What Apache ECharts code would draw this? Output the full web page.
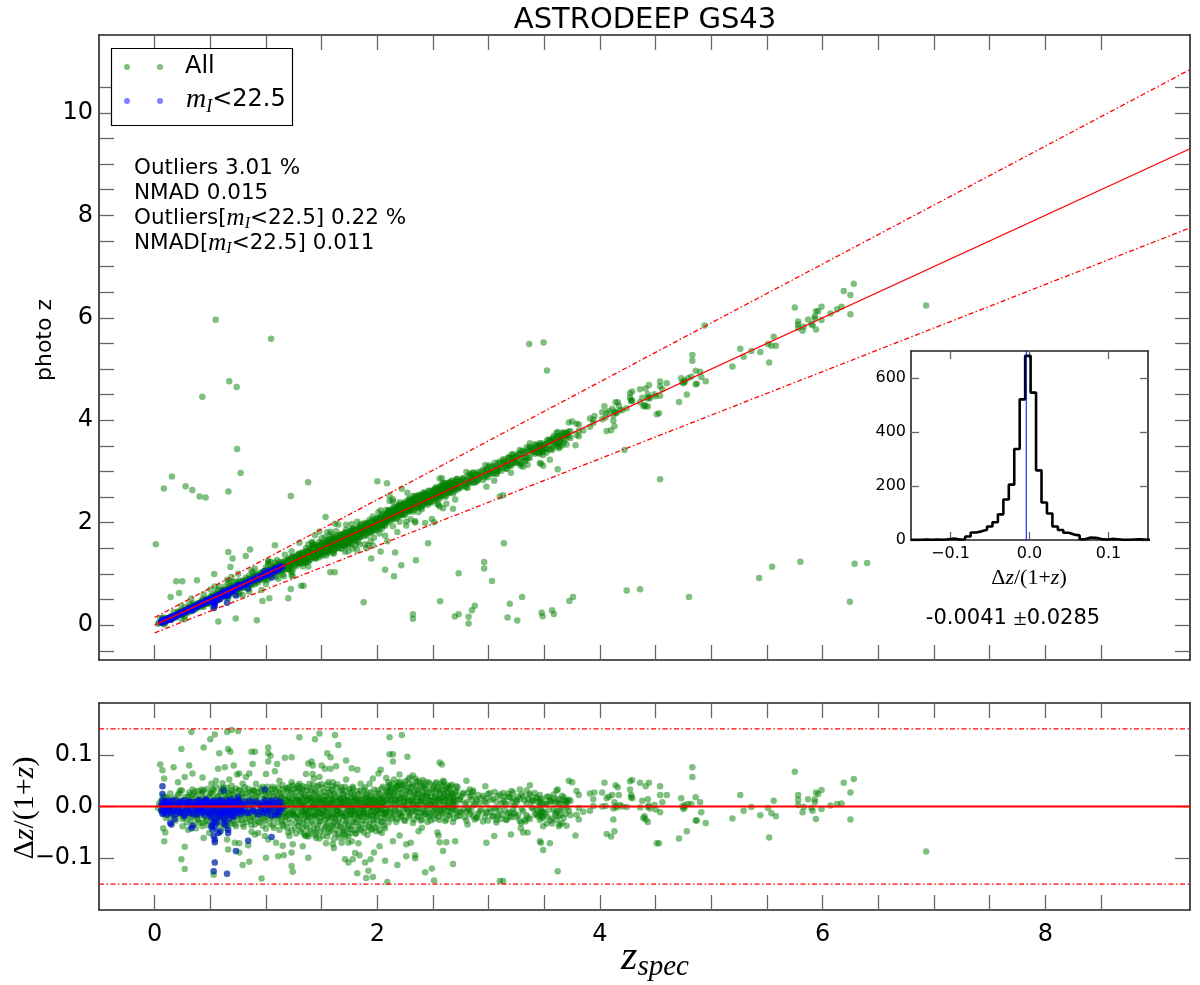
<!DOCTYPE html>
<html><head><meta charset="utf-8">
<script src="https://cdn.jsdelivr.net/npm/echarts/dist/echarts.min.js"></script>
<style>html,body{margin:0;padding:0;background:#fff}#c{width:1200px;height:985px}</style>
</head><body><div id="c"></div><script>
// ---------- DATA ----------
const xTickVals = [0,0.5,1,1.5,2,2.5,3,3.5,4,4.5,5,5.5,6,6.5,7,7.5,8,8.5];
const xLabelVals = [0,2,4,6,8];
const yTickVals = [-0.5,0,0.5,1,1.5,2,2.5,3,3.5,4,4.5,5,5.5,6,6.5,7,7.5,8,8.5,9,9.5,10,10.5];
const yLabelVals = [0,2,4,6,8,10];
const resTickVals = [-0.1,0,0.1];
const insetXTicks = [-0.1,0,0.1];
const insetYTicks = [0,200,400,600];

// residual panel points, "All" sample: [z_spec, dz/(1+z)]
const allResLow = [
[0.33,0.144],[0.54,0.139],[0.65,0.144],[0.69,0.148],[0.75,0.146],[0.50,0.13],[0.44,0.114],[0.24,0.111],[0.58,0.103],[0.66,0.111],[0.68,0.106],[0.87,0.106],[0.90,0.106],[1.02,0.114],[1.02,0.103],[1.04,0.098],[1.02,0.087],[1.10,0.082],[1.17,0.094],[1.23,0.095],[0.05,0.081],[0.17,0.076],[0.31,0.079],[0.34,0.064],[0.27,0.057],[0.43,0.056],[0.57,0.073],[0.63,0.076],[0.71,0.079],[0.74,0.062],[0.76,0.064],[0.85,0.064],[0.88,0.082],[1.00,0.063],[1.08,0.068],[0.07,0.07],[0.085,0.054],[0.21,0.047],[0.51,0.044],[0.55,0.05],[0.61,0.045],[0.67,0.052],[0.82,0.057],[0.79,0.044],[0.91,0.044],[1.12,0.05],[1.23,0.047],[0.245,0.031],[0.34,0.033],[0.42,0.033],[0.60,0.035],[0.69,0.031],[0.88,0.031],[0.97,0.038],[1.06,0.038],[1.15,0.041],[1.20,0.035],[1.27,0.036],
[0.077,-0.042],[0.095,-0.05],[0.086,-0.067],[0.25,-0.038],[0.30,-0.045],[0.37,-0.042],[0.43,-0.038],[0.44,-0.061],[0.49,-0.051],[0.58,-0.05],[0.65,-0.064],[0.66,-0.083],[0.72,-0.07],[0.76,-0.071],[0.84,-0.075],[0.87,-0.049],[0.90,-0.054],[0.93,-0.051],[0.99,-0.057],[1.02,-0.064],[1.09,-0.07],[1.15,-0.076],[1.21,-0.057],[1.24,-0.073],[0.27,-0.078],[0.24,-0.102],[0.27,-0.121],[1.00,-0.099],[1.11,-0.096],[1.16,-0.094],[1.23,-0.089],[1.23,-0.115],[1.24,-0.126],[0.96,-0.139],[0.79,-0.113],[0.85,-0.107],[0.76,-0.089],[0.53,-0.132],[0.03,-0.003],[0.04,0.006]
];
const allResMid = [
[1.30,0.134],[1.44,0.13],[1.48,0.141],[1.62,0.138],[1.65,0.119],[1.55,0.103],[1.58,0.095],[1.38,0.083],[1.41,0.087],[1.42,0.079],[1.50,0.079],[1.53,0.073],[1.58,0.073],[1.63,0.078],[1.72,0.089],[1.77,0.074],[1.82,0.071],[1.72,0.052],[1.42,0.063],[1.43,0.054],[1.36,0.063],[1.48,0.057],[1.56,0.047],[1.60,0.047],[1.68,0.037],[1.78,0.038],[1.85,0.044],[1.89,0.037],[1.93,0.044],[1.96,0.054],[2.01,0.064],[2.03,0.071],[2.11,0.134],[2.22,0.138],[2.11,0.101],[2.14,0.101],[2.14,0.087],[2.27,0.096],[2.08,0.055],[2.10,0.038],[2.11,0.031],[2.16,0.035],[2.19,0.041],[2.20,0.062],[2.29,0.056],[2.32,0.06],[2.34,0.054],[2.37,0.05],[2.43,0.047],[2.41,0.038],[2.56,0.085],[2.58,0.081],[2.53,0.047],[2.59,0.05],[2.63,0.041],[2.71,0.039],[2.67,0.025],[1.30,0.044],[1.33,0.033],
[1.33,-0.077],[1.38,-0.099],[1.36,-0.057],[1.45,-0.051],[1.54,-0.071],[1.60,-0.073],[1.61,-0.08],[1.70,-0.054],[1.68,-0.07],[1.74,-0.07],[1.77,-0.067],[1.83,-0.071],[1.71,-0.102],[1.74,-0.108],[1.78,-0.102],[1.80,-0.09],[1.84,-0.094],[1.89,-0.108],[1.82,-0.129],[1.90,-0.138],[1.92,-0.124],[1.96,-0.136],[1.94,-0.102],[1.97,-0.089],[2.02,-0.077],[2.04,-0.051],[2.07,-0.105],[2.09,-0.146],[2.14,-0.067],[2.18,-0.113],[2.20,-0.056],[2.26,-0.073],[2.26,-0.096],[2.30,-0.07],[2.34,-0.094],[2.34,-0.1],[2.37,-0.048],[2.40,-0.041],[2.43,-0.127],[2.49,-0.12],[2.51,-0.143],[2.54,-0.05],[2.55,-0.056],[2.56,-0.069],[2.59,-0.086],[2.62,-0.069],[2.68,-0.111],[2.70,-0.067]
];
const allResHigh = [
[2.80,0.05],[2.77,0.026],[2.83,0.033],[2.86,0.031],[2.85,0.022],[2.89,0.014],[2.74,0.012],[2.74,-0.01],[2.80,-0.01],[2.82,-0.007],[2.86,-0.019],[2.90,-0.021],[2.81,-0.035],[2.97,0.039],[2.98,0.016],[2.98,-0.01],[3.03,-0.019],[3.07,-0.003],[3.07,-0.026],[3.08,-0.019],[3.13,0.026],[3.14,0.019],[3.18,0.019],[3.21,0.009],[3.22,0.016],[3.25,0.012],[3.28,0.033],[3.22,-0.013],[3.19,-0.019],[3.16,-0.026],[3.29,-0.032],[3.29,-0.042],[3.33,-0.029],[3.31,-0.05],[3.35,-0.05],[3.37,0.041],[3.37,0.022],[3.39,0.012],[3.43,0.016],[3.46,0.009],[3.43,-0.007],[3.48,-0.01],[3.48,-0.022],[3.52,0.006],[3.55,0.012],[3.58,0.016],[3.61,0.031],[3.63,0.006],[3.64,-0.007],[3.60,-0.016],[3.61,-0.026],[3.64,-0.035],[3.67,0.012],[3.70,0.012],[3.72,0.05],[3.75,0.047],[3.79,0.03],[3.79,-0.016],[3.78,-0.056],[3.34,0.031],[3.62,0.033],
[2.98,-0.07],[3.05,-0.057],[3.10,-0.144],[3.13,-0.144],[3.20,-0.054],[3.46,-0.067],[3.47,-0.07],[3.49,-0.084],[3.55,-0.071],[3.62,-0.125],[3.49,-0.038],[3.52,-0.033],[3.57,-0.033],[3.63,-0.038],[3.66,-0.032],[3.70,-0.037],
[3.81,0.022],[3.81,-0.003],[3.85,-0.01],[3.81,-0.025],[3.91,-0.008],[3.91,0.025],[3.95,0.027],[3.94,0.014],[3.94,0.001],[4.02,0.027],[4.04,0.046],[4.02,0.0],[4.05,0.001],[4.06,0.016],[4.08,0.019],[4.11,0.022],[4.12,-0.004],[4.14,0.001],[4.14,0.041],[4.16,0.037],[4.17,0.022],[4.18,0.003],[4.12,-0.025],[4.13,-0.048],[4.06,-0.053],[4.10,-0.058],[4.20,0.0],[4.24,-0.001],[4.27,0.033],[4.29,0.051],[4.27,0.049],[4.28,0.022],[4.29,0.016],[4.36,0.046],[4.36,-0.002],[4.38,0.011],[4.40,-0.019],[4.41,-0.025],[4.43,-0.03],[4.44,0.046],[4.41,0.039],[4.43,0.014],[4.43,-0.001],[4.49,0.003],[4.50,-0.006],[4.51,-0.071],[4.53,-0.071],[4.54,0.039],[4.54,0.022],[4.54,-0.011],[4.56,0.008],[4.60,0.022],[4.71,-0.062],[4.73,0.016],[4.74,0.0],[4.75,-0.005],[4.76,0.003],[4.78,-0.048],[4.79,0.005],[4.82,0.005],[4.83,0.076],[4.83,0.057],[4.86,0.018],[4.86,-0.027],[4.87,-0.027],[4.90,0.008],[4.91,-0.011],[4.95,-0.032],[5.19,-0.023],[5.26,0.022],[5.29,-0.008],[5.36,-0.001],[5.44,-0.017],[5.51,-0.003],[5.52,-0.06],[5.54,-0.013],[5.56,0.011],[5.58,-0.019],[5.75,0.067],[5.78,0.022],[5.78,0.013],[5.78,0.003],[5.82,-0.011],[5.83,-0.001],[5.87,0.014],[5.90,-0.003],[5.91,-0.008],[5.93,0.014],[5.93,0.008],[5.94,-0.024],[5.94,0.027],[5.96,0.024],[5.99,0.032],[5.99,-0.005],[6.07,0.002],[6.13,0.005],[6.17,0.006],[6.19,0.046],[6.25,0.027],[6.25,-0.025],[6.28,0.053],[6.93,-0.087],
[4.13,0.008],[4.15,-0.002],[4.28,0.018],[4.44,0.002],[4.45,-0.004],[4.76,-0.002],[4.39,-0.022]
];
// dense core of the relation: rows of [z_spec, dz, dz, ...]
const bandLow = [
[0.06,0.012,-0.008],[0.08,-0.015,0.004,0.02],[0.10,0.009,-0.022],[0.12,-0.004,0.016],[0.14,0.025,-0.011],[0.17,-0.018,0.006],[0.19,0.013,-0.027],[0.21,-0.006,0.022],[0.23,0.003,-0.016,0.031],[0.25,-0.024,0.011],[0.27,0.018,-0.009],[0.29,-0.031,0.005],[0.31,0.027,-0.014,0.002],[0.33,-0.021,0.015],[0.35,0.008,-0.035,0.024],[0.37,-0.012,0.019],[0.39,0.03,-0.026,-0.003],[0.41,0.012,-0.017],[0.43,-0.008,0.028,-0.032],[0.45,0.017,-0.02,0.004],[0.47,-0.028,0.034,0.009],[0.49,-0.013,0.021],[0.51,0.006,-0.039,0.026],[0.53,-0.022,0.014,0.031],[0.55,-0.007,0.038,-0.03],[0.57,0.019,-0.015,0.002],[0.59,-0.036,0.027,0.011],[0.61,-0.01,0.033,-0.024],[0.63,0.022,-0.004,-0.041],[0.65,0.014,-0.029,0.036],[0.67,-0.018,0.008,0.025],[0.69,0.04,-0.033,-0.006],[0.71,0.017,-0.021,0.029],[0.73,-0.011,0.035,-0.038],[0.75,0.004,-0.026,0.021],[0.77,-0.016,0.031,0.012],[0.79,0.026,-0.034,-0.002],[0.81,-0.023,0.018,0.037],[0.83,0.009,-0.012,-0.03],[0.85,0.028,-0.019,0.003],[0.87,-0.036,0.014,0.024],[0.89,-0.008,0.032,-0.025],[0.91,0.019,-0.015,0.006],[0.93,-0.029,0.027,0.011],[0.95,0.035,-0.005,-0.021],[0.97,-0.013,0.022,-0.037],[0.99,0.008,-0.027,0.03],[1.01,-0.019,0.016,0.038],[1.03,0.025,-0.033,-0.004],[1.05,-0.01,0.034,0.012],[1.07,0.02,-0.024,-0.041],[1.09,-0.015,0.029,0.005],[1.11,0.037,-0.031,-0.008],[1.13,0.013,-0.02,0.026],[1.15,-0.035,0.009,0.033],[1.17,0.021,-0.012,-0.028],[1.19,-0.04,0.03,0.002],[1.21,0.015,-0.023,0.038],[1.23,-0.009,0.026,-0.046],[1.25,0.033,-0.017,0.007],[1.27,-0.03,0.019,-0.052],[1.29,0.011,-0.037,0.04],
[0.10,0.018,-0.012],[0.14,-0.02,0.008],[0.18,0.017,-0.005],[0.22,-0.013,0.026],[0.26,0.006,-0.021],[0.30,-0.009,0.019],[0.32,0.022,-0.026],[0.34,-0.004,0.012],[0.36,0.029,-0.017],[0.38,-0.023,0.007],[0.40,0.015,-0.031],[0.42,-0.006,0.024],[0.44,0.031,-0.012],[0.46,-0.027,0.013],[0.48,0.005,-0.036],[0.50,0.024,-0.009],[0.52,-0.017,0.033],[0.54,0.009,-0.028],[0.56,-0.032,0.02],[0.58,0.013,-0.006],[0.60,-0.022,0.028],[0.62,0.036,-0.014],[0.64,-0.005,0.018],[0.66,0.027,-0.037],[0.68,-0.011,0.015],[0.70,0.023,-0.028],[0.72,-0.034,0.006],[0.74,0.012,-0.018],[0.76,0.032,-0.008],[0.78,-0.026,0.019],[0.80,0.007,-0.039],[0.82,0.025,-0.016],[0.84,-0.005,0.034],[0.86,0.016,-0.027],[0.88,-0.021,0.009],[0.90,0.029,-0.035],[0.92,-0.012,0.021],[0.94,0.006,-0.031],[0.96,0.03,-0.016],[0.98,-0.024,0.014],[1.00,0.02,-0.043],[1.02,-0.008,0.029],[1.04,0.012,-0.022],[1.06,-0.036,0.024],[1.08,0.034,-0.012],[1.10,-0.019,0.008],[1.12,0.025,-0.045],[1.14,-0.027,0.016],[1.16,0.006,-0.038],[1.18,0.035,-0.018],[1.20,-0.05,0.011],[1.22,0.027,-0.032],[1.24,-0.014,0.041],[1.26,0.02,-0.041],[1.28,-0.022,0.03]
];
const bandMid = [
[1.31,-0.021,0.028,-0.048,0.006],[1.33,0.015,-0.033,0.039,-0.009],[1.35,-0.056,0.022,-0.015,0.002],[1.37,0.032,-0.041,0.011,-0.027],[1.39,-0.006,0.044,-0.053,0.018],[1.41,-0.03,0.009,-0.018,0.035],[1.43,0.024,-0.044,-0.002,0.013],[1.45,-0.061,0.03,-0.023,0.005],[1.47,0.017,-0.036,0.041,-0.011],[1.49,-0.049,0.008,-0.028,0.026],[1.51,0.036,-0.014,-0.057,0.001],[1.53,-0.025,0.021,-0.04,0.012],[1.55,0.042,-0.007,-0.033,-0.058],[1.57,-0.018,0.028,-0.047,0.004],[1.59,0.015,-0.038,0.033,-0.022],[1.61,-0.063,-0.003,0.024,-0.031],[1.63,0.037,-0.045,0.009,-0.016],[1.65,-0.027,0.019,-0.054,0.002],[1.67,0.03,-0.012,-0.039,0.014],[1.69,-0.05,0.025,-0.021,0.007],[1.71,0.011,-0.034,0.038,-0.06],[1.73,-0.008,-0.044,0.02,-0.026],[1.75,0.034,-0.017,-0.052,0.003],[1.77,-0.036,0.016,-0.009,0.028],[1.79,0.008,-0.046,-0.024,0.022],
[1.81,-0.031,0.012,-0.052],[1.83,0.024,-0.015,-0.038],[1.85,-0.004,0.031,-0.046],[1.87,-0.027,0.009,-0.012],[1.89,0.018,-0.041,0.001],[1.91,-0.02,0.027,-0.055],[1.93,0.006,-0.033,0.015],[1.95,-0.044,0.021,-0.009],[1.97,0.033,-0.025,-0.003],[1.99,-0.014,0.011,-0.048],[2.01,0.026,-0.036,0.004],[2.03,-0.022,0.017,-0.006],[2.05,0.038,-0.03,0.008],[2.07,-0.011,0.023,-0.042],[2.09,0.014,-0.019,0.031],
[2.11,0.042,-0.008,0.019],[2.13,-0.024,0.031,0.005],[2.15,0.052,-0.015,0.025],[2.17,0.011,0.038,-0.03],[2.19,-0.004,0.027,0.046],[2.21,0.016,-0.021,0.034],[2.23,0.041,0.002,-0.012],[2.25,-0.028,0.022,0.049],[2.27,0.009,0.033,-0.006],[2.29,0.026,-0.017,0.044],[2.31,-0.002,0.014,0.037],[2.33,0.029,-0.025,0.006],[2.35,0.048,0.018,-0.011],[2.37,-0.019,0.03,0.003],[2.39,0.012,0.04,-0.027],[2.41,0.023,-0.008,0.051],[2.43,-0.014,0.035,0.008],[2.45,0.027,-0.03,0.016],[2.47,0.004,0.044,-0.018],[2.49,0.019,-0.005,0.032],[2.51,-0.024,0.01,0.039],[2.53,0.028,-0.013,0.002],[2.55,0.015,0.036,-0.021],[2.57,-0.007,0.024,0.045],[2.59,0.031,-0.016,0.009],[2.61,0.003,0.038,-0.028],[2.63,0.02,-0.009,0.027],[2.65,-0.018,0.012,0.033],[2.67,0.025,-0.004,0.042],[2.69,0.007,-0.022,0.018],[2.71,-0.012,0.03,0.001],
[1.30,0.036,-0.031,0.012],[1.32,-0.043,0.004,0.027],[1.34,0.019,-0.025,-0.052],[1.36,-0.01,0.037,-0.037],[1.38,0.023,-0.02,-0.058],[1.40,-0.047,0.015,0.031],[1.42,0.003,-0.034,0.042],[1.44,-0.016,0.027,-0.055],[1.46,0.038,-0.007,-0.042],[1.48,-0.03,0.019,-0.062],[1.50,0.011,-0.021,0.043],[1.52,-0.045,0.029,-0.01],[1.54,0.021,-0.036,0.005],[1.56,-0.023,0.033,-0.05],[1.58,0.006,-0.043,0.022],[1.60,-0.035,0.013,0.039],[1.62,0.026,-0.024,-0.052],[1.64,-0.008,0.043,-0.036],[1.66,0.016,-0.031,-0.06],[1.68,-0.042,0.006,0.033],[1.70,0.022,-0.019,-0.048],[1.72,-0.029,0.03,0.003],[1.74,0.013,-0.038,-0.057],[1.76,-0.015,0.025,-0.044],[1.78,0.035,-0.007,-0.03],[1.80,-0.052,0.018,-0.014],[1.82,0.005,-0.026,0.03],[1.84,-0.043,0.013,-0.02],[1.86,0.021,-0.034,-0.006],[1.88,-0.015,0.032,-0.05],[1.90,0.01,-0.028,0.023],[1.92,-0.039,0.003,0.016],[1.94,0.027,-0.018,-0.045],[1.96,-0.025,0.012,-0.035],[1.98,0.02,-0.041,0.005],[2.00,-0.006,0.031,-0.026],[2.02,0.014,-0.047,0.024],[2.04,-0.029,0.007,0.035],[2.06,0.019,-0.013,-0.038],[2.08,-0.022,0.028,0.002],[2.10,0.026,-0.031,0.047],[2.12,-0.013,0.012,0.036],[2.14,0.021,-0.02,0.044],[2.16,-0.006,0.029,0.015],[2.18,0.039,-0.024,0.007],[2.20,0.014,0.048,-0.012],[2.22,-0.018,0.026,0.038],[2.24,0.008,0.043,-0.026],[2.26,0.03,-0.004,0.017],[2.28,-0.021,0.037,0.052],[2.30,0.011,-0.013,0.028],[2.32,0.042,0.005,-0.032],[2.34,-0.009,0.023,0.039],[2.36,0.016,-0.02,0.033],[2.38,0.045,-0.005,0.01],[2.40,-0.025,0.028,0.019],[2.42,0.006,0.041,-0.016],[2.44,0.034,-0.011,0.022],[2.46,-0.02,0.013,0.047],[2.48,0.026,-0.027,0.004],[2.50,0.011,0.035,-0.009],[2.52,-0.017,0.021,0.044],[2.54,0.033,-0.006,0.014],[2.56,-0.026,0.01,0.029],[2.58,0.018,0.04,-0.013],[2.60,-0.003,0.025,0.048],[2.62,0.014,-0.025,0.033],[2.64,0.036,0.002,-0.016],[2.66,-0.01,0.022,0.039],[2.68,0.017,-0.03,0.008],[2.70,0.028,-0.007,0.012],[2.72,-0.019,0.021,0.037]
];
// densest part of the core, close to zero offset
const bandCore = [
[1.10,0.004,-0.012,0.016],[1.12,-0.006,0.011,-0.018],[1.14,0.002,-0.009,0.019],[1.16,-0.015,0.007,-0.003],[1.18,0.012,-0.02,0.001],[1.20,-0.007,0.017,-0.013],[1.22,0.005,-0.016,0.009],[1.24,-0.011,0.002,0.014],[1.26,0.008,-0.005,-0.019],[1.28,-0.014,0.013,-0.002],[1.30,0.003,-0.017,0.01],[1.32,-0.009,0.018,-0.005],[1.34,0.006,-0.012,0.002],[1.36,-0.019,0.011,-0.004],[1.38,0.014,-0.008,-0.015],[1.40,-0.002,0.007,-0.021],[1.42,0.017,-0.013,0.001],[1.44,-0.006,0.012,-0.017],[1.46,0.004,-0.019,0.008],[1.48,-0.012,0.015,-0.003],[1.50,0.009,-0.006,-0.014],[1.52,-0.018,0.003,0.012],[1.54,0.011,-0.011,-0.001],[1.56,-0.004,0.016,-0.02],[1.58,0.007,-0.015,0.003],[1.60,-0.013,0.01,-0.006],[1.62,0.001,-0.02,0.014],[1.64,-0.008,0.005,-0.016],[1.66,0.013,-0.003,-0.011],[1.68,-0.017,0.009,0.002],[1.70,0.004,-0.013,0.016],[1.72,-0.006,0.012,-0.019],[1.74,0.01,-0.008,0.001],[1.76,-0.014,0.004,-0.003],[1.78,0.002,-0.018,0.011],[1.80,-0.009,0.014,-0.005],[1.82,0.012,-0.012,0.003],[1.84,-0.003,0.008,-0.017],[1.86,0.006,-0.02,0.013],[1.88,-0.011,0.002,-0.007],[1.90,0.015,-0.014,0.004],[1.92,-0.005,0.01,-0.018],[1.94,0.002,-0.009,0.012],[1.96,-0.016,0.006,-0.002],[1.98,0.009,-0.013,0.015],[2.00,-0.008,0.003,-0.017],[2.02,0.011,-0.006,0.001],[2.04,-0.013,0.014,-0.003],[2.06,0.004,-0.016,0.009],[2.08,-0.006,0.012,-0.011],
[2.12,0.008,0.021,-0.004],[2.16,0.014,-0.009,0.003],[2.20,0.006,0.019,-0.015],[2.24,0.017,-0.002,0.009],[2.28,0.003,0.012,-0.01],[2.32,0.019,-0.007,0.01],[2.36,0.004,0.025,-0.003],[2.40,0.01,-0.012,0.017],[2.44,0.001,0.02,-0.006],[2.48,0.012,0.004,-0.014],[2.52,0.018,-0.003,0.006],[2.56,0.002,0.015,-0.01],[2.60,0.011,-0.006,0.02],[2.64,0.007,0.017,-0.002],[2.68,-0.005,0.011,0.004]
];
const bandHigh = [
[2.74,0.014,-0.018],[2.77,-0.006,0.024],[2.80,0.008,-0.027],[2.83,-0.015,0.019],[2.86,0.028,0.002],[2.89,-0.022,0.011],[2.92,0.005,-0.009],[2.95,0.021,-0.029],[2.98,-0.013,0.007],[3.01,0.026,-0.004],[3.04,-0.019,0.015],[3.07,0.009,-0.031],[3.10,-0.007,0.023],[3.13,0.012,-0.016],[3.16,-0.025,0.004],[3.19,0.018,-0.011],[3.22,-0.003,0.027],[3.25,-0.021,0.008],[3.28,0.014,-0.028],[3.31,-0.009,0.02],[3.34,0.006,-0.017],[3.37,-0.024,0.025],[3.40,0.011,-0.005],[3.43,-0.014,0.018],[3.46,0.022,-0.026,0.003,-0.012],[3.48,-0.008,0.015,-0.02],[3.51,0.004,-0.015],[3.54,0.019,-0.007],[3.57,-0.023,0.01],[3.60,0.007,-0.012],[3.63,0.015,-0.019],[3.66,-0.004,0.021],[3.69,0.01,-0.014,0.003],[3.72,-0.008,0.013],
[2.755,0.019,-0.011],[2.785,-0.021,0.006],[2.815,0.027,-0.003],[2.845,-0.009,0.013],[2.875,0.004,-0.025],[2.905,0.022,-0.014],[2.935,-0.006,0.016],[2.965,0.01,-0.02],[2.995,-0.027,0.024],[3.025,0.013,-0.01],[3.055,-0.004,0.028],[3.085,0.02,-0.015],[3.115,-0.024,0.006],[3.145,0.008,-0.007],[3.175,-0.013,0.025],[3.205,0.03,-0.021],[3.235,0.002,-0.012],[3.265,-0.017,0.019],[3.295,0.023,-0.005],[3.325,-0.026,0.012],[3.355,0.015,-0.021],[3.385,-0.002,0.009],[3.415,0.026,-0.016],[3.445,-0.019,0.008],[3.465,0.013,-0.003,-0.018],[3.495,0.005,-0.011],[3.525,-0.02,0.019],[3.555,0.009,-0.027],[3.585,-0.006,0.023],[3.615,0.012,-0.009],[3.645,-0.016,0.006],[3.675,0.018,-0.022],[3.705,-0.002,0.008],[3.735,0.011,-0.017]
];
// bright sample (m_I < 22.5): [z_spec, dz/(1+z)]
const brightRes = [
[0.07,0.039],[0.07,0.024],[0.14,-0.032],[0.15,-0.035],[0.18,-0.024],[0.34,-0.037],[0.33,-0.042],[0.40,0.012],[0.46,0.014],[0.51,-0.038],[0.52,-0.045],[0.53,-0.057],[0.54,-0.064],[0.54,-0.069],[0.57,-0.051],[0.59,-0.048],[0.62,-0.033],[0.62,0.031],[0.66,-0.051],[0.73,-0.086],[0.75,0.019],[0.84,-0.066],[0.99,0.033],[1.05,-0.059],[0.54,-0.108],[0.53,-0.125],[0.65,-0.13],[0.70,-0.019],[0.27,-0.019]
];
const brightBand = [
[0.06,0.004,-0.008],[0.07,0.012,-0.014],[0.08,-0.003,0.007],[0.09,0.01,-0.011],[0.10,-0.006,0.003],[0.11,0.008,-0.016],[0.12,-0.002,0.011],[0.13,0.005,-0.009],[0.15,-0.013,0.009],[0.17,0.002,-0.007],[0.19,0.011,-0.015],[0.21,-0.004,0.006],[0.23,0.009,-0.012],[0.25,-0.008,0.003],[0.27,0.012,-0.016],[0.29,-0.001,0.007],[0.31,-0.011,0.01],[0.33,0.004,-0.006],[0.35,-0.015,0.008],[0.37,0.002,-0.01],[0.39,0.011,-0.004],[0.41,-0.013,0.006],[0.43,0.001,-0.009],[0.45,0.009,-0.017],[0.47,-0.005,0.012],[0.49,0.004,-0.014],[0.51,-0.009,0.007,-0.022],[0.53,0.011,-0.003,-0.03],[0.55,-0.016,0.005,-0.025],[0.57,0.008,-0.011],[0.59,-0.002,0.013,-0.02],[0.61,-0.014,0.006],[0.63,0.003,-0.008,-0.028],[0.65,0.012,-0.017,-0.004],[0.67,-0.006,0.009,-0.024],[0.69,0.002,-0.012,0.014],[0.71,-0.019,0.007,-0.001],[0.73,0.01,-0.009],[0.75,-0.004,0.013],[0.77,0.006,-0.015],[0.79,-0.011,0.003],[0.81,0.009,-0.006],[0.85,-0.013,0.011],[0.89,0.004,-0.008],[0.93,-0.016,0.007],[0.96,0.002,-0.01],[0.99,0.012,-0.005],[1.01,-0.014,0.006],[1.03,0.003,-0.009],[1.05,-0.018,0.009],[1.07,0.007,-0.003],[1.09,-0.011,0.013],[1.11,0.001,-0.015],[1.13,0.009,-0.006],[1.15,-0.002],
[0.065,0.002,-0.005],[0.085,0.009,-0.012],[0.105,-0.001,0.006],[0.14,0.004,-0.003],[0.16,-0.009,0.012],[0.20,0.003,-0.01],[0.22,0.007,-0.002],[0.24,-0.012,0.01],[0.28,0.004,-0.007],[0.30,-0.003,0.009],[0.32,0.008,-0.013],[0.36,-0.005,0.004],[0.38,0.009,-0.016],[0.40,-0.008,0.003],[0.42,0.006,-0.004],[0.44,-0.01,0.01],[0.46,0.002,-0.006],[0.48,-0.012,0.008],[0.50,0.005,-0.018],[0.52,-0.006,0.01,-0.035],[0.54,0.003,-0.012,-0.04],[0.56,-0.009,0.009,-0.03],[0.58,0.006,-0.019],[0.60,-0.004,0.011,-0.015],[0.62,0.008,-0.01,-0.022],[0.64,-0.013,0.004,-0.036],[0.66,0.005,-0.007,-0.045],[0.68,-0.015,0.01],[0.70,0.007,-0.011],[0.72,-0.003,0.009],[0.74,-0.012,0.005],[0.76,0.01,-0.006],[0.78,-0.008,0.002],[0.83,0.004,-0.012],[0.87,-0.006,0.008],[0.91,0.01,-0.011],[0.95,-0.004,0.003],[0.98,-0.012,0.008],[1.00,0.005,-0.007],[1.04,-0.004,0.011],[1.08,-0.016,0.002],[1.12,0.008,-0.01]
];
// catastrophic outliers seen only in the upper panel: [z_spec, photo z]
const outliersMain = [
[0.548,5.96],[1.046,5.59],[0.67,4.76],[0.737,4.65],[0.428,4.46],[0.74,3.44],[0.772,2.97],[0.155,2.90],[0.083,2.67],[0.278,2.71],[0.338,2.64],[0.404,2.51],[0.458,2.49],[0.662,2.61],[1.379,2.79],[1.223,2.52],[0.01,1.58],[2.0,2.81],[2.087,2.77],[1.535,2.11],[2.456,1.60],[1.877,0.448],[2.564,0.468],[2.32,0.214],[2.32,0.123],[2.696,0.169],[2.73,0.214],[2.82,0.162],[2.82,0.032],[2.85,0.29],[2.875,0.377],[2.96,1.235],[2.96,1.105],[3.03,0.864],[2.73,1.014],[2.347,1.267],[2.215,1.17],[2.07,1.08],[2.15,0.955],[1.945,1.30],[2.16,1.417],[2.03,1.44],[1.618,1.033],[1.577,1.033],[1.316,0.767],[1.337,0.767],[1.223,0.708],[1.2,0.526],[1.03,0.526],[0.917,0.097],[0.728,0.13],[0.572,0.071],[0.968,0.474],[0.143,0.552],[0.194,0.858],[0.248,0.858],[0.38,0.877],[0.22,0.63],[0.535,1.0],[0.662,1.43],[0.70,1.30],[0.857,1.475],[0.818,1.35],[0.68,1.137],[1.08,1.56],
[3.365,5.49],[3.494,5.52],[3.524,4.97],[4.94,5.85],[4.54,2.85],[4.22,3.42],[3.137,1.60],[3.19,0.42],[3.30,0.55],[3.17,0.15],[3.257,0.09],[3.476,0.24],[3.485,0.175],[3.57,0.29],[3.586,0.22],[3.725,0.474],[3.758,0.55],[4.24,0.676],[4.36,0.70],[4.80,0.55],[5.43,0.92],[5.546,1.14],[5.8,1.24],[6.287,1.20],[6.4,1.215],[6.245,0.455]
];
// histogram of dz/(1+z): bin left edges (plus final right edge) and counts
const histEdges = [-0.1504,-0.1435,-0.1366,-0.1297,-0.1228,-0.1159,-0.1090,-0.1021,-0.0952,-0.0883,-0.0814,-0.0745,-0.0676,-0.0607,-0.0538,-0.0469,-0.0400,-0.0331,-0.0262,-0.0193,-0.0124,-0.0055,0.0014,0.0083,0.0152,0.0221,0.0290,0.0359,0.0428,0.0497,0.0566,0.0635,0.0704,0.0773,0.0842,0.0911,0.0980,0.1049,0.1118,0.1187,0.1256,0.1325,0.1394,0.1463,0.1532];
const histCounts = [1,1,2,1,2,1,3,5,2,3,13,28,32,38,50,66,95,150,205,337,521,682,546,258,139,98,50,37,27,20,17,3,9,8,4,2,4,3,1,1,2,3,2,1];
const histMean = -0.0041;
const histStd = 0.0285;
const outlierLimit = 0.15;
const lineRange = [0, 9.3];
const resLineRange = [-0.5, 9.3];

// ---------- BUILD ----------
function expand(rows){ const o=[]; rows.forEach(r=>{ for(let i=1;i<r.length;i++) o.push([r[0],r[i]]); }); return o; }
const brightAll = brightRes.concat(expand(brightBand));
const allRes = allResLow.concat(allResMid, allResHigh, expand(bandLow), expand(bandMid), expand(bandCore), expand(bandHigh), brightAll);
const toMain = p => [p[0], p[0] + p[1]*(1+p[0])];
const allMain = allRes.map(toMain).concat(outliersMain);
const brightMain = brightAll.map(toMain);
const histData = histCounts.map((c,i)=>[histEdges[i],c]);
histData.push([histEdges[histEdges.length-1], histCounts[histCounts.length-1]]);

const mctx = document.createElement('canvas').getContext('2d');
function tw(t,f){ mctx.font=f; return mctx.measureText(t).width; }
function mathGroup(parts, x, y, align, rotation, z){
  const total = parts.reduce((s,p)=>s+tw(p[0],p[1]),0);
  let cx = align==='center' ? -total/2 : (align==='right' ? -total : 0);
  const children=[];
  parts.forEach(p=>{ children.push({type:'text', x:cx, y:(p[2]||0), z:z||1, silent:true, style:{text:p[0], font:p[1], fill:'#000', align:'left', verticalAlign:'middle'}}); cx += tw(p[0],p[1]); });
  return {type:'group', x:x, y:y, rotation:rotation||0, silent:true, z:z||1, children:children};
}
const SANS='"DejaVu Sans"', SERIF='"Liberation Serif"';
const fmtSigned = v => v===0 ? '0.0' : (v<0 ? '\u2212' : '') + Math.abs(v).toFixed(1);

const frame = {show:true, onZero:false, lineStyle:{color:'#222', width:1.6}};
const tick = (vals,len) => ({show:true, inside:true, length:len, customValues:vals, lineStyle:{color:'#666', width:1.3}});
const noLabel = {show:false};
const lab = (vals,fmt,size,margin) => ({show:true, customValues:vals, formatter:fmt, color:'#000', fontFamily:'DejaVu Sans', fontSize:size, margin:margin});

function ax(grid,pos,min,max,ticks,len,label){ return {type:'value', gridIndex:grid, position:pos, min:min, max:max, axisLine:frame, axisTick:tick(ticks,len), axisLabel:label||noLabel, splitLine:{show:false}}; }

const dashDot = [5,2.5,1.5,2.5];
const MS = 6.5;
const chart = echarts.init(document.getElementById('c'), null, {renderer:'canvas'});
chart.setOption({
  animation:false,
  backgroundColor:'#fff',
  grid:[
    {left:99, top:35, width:1091, height:625},
    {left:99, top:703, width:1091, height:207},
    {left:911, top:351, width:237, height:189, show:true, backgroundColor:'#fff', borderWidth:0}
  ],
  xAxis:[
    ax(0,'bottom',-0.5,9.3,xTickVals,15),
    ax(0,'top',-0.5,9.3,xTickVals,15),
    ax(1,'bottom',-0.5,9.3,xTickVals,15, lab(xLabelVals, v=>String(v), 24, 13)),
    ax(1,'top',-0.5,9.3,xTickVals,15),
    ax(2,'bottom',-0.15,0.15,insetXTicks,8, lab(insetXTicks, fmtSigned, 16, 6)),
    ax(2,'top',-0.15,0.15,insetXTicks,8)
  ],
  yAxis:[
    ax(0,'left',-0.68,11.52,yTickVals,15, lab(yLabelVals, v=>String(v), 24, 6)),
    ax(0,'right',-0.68,11.52,yTickVals,15),
    ax(1,'left',-0.2,0.2,resTickVals,15, lab(resTickVals, fmtSigned, 24, 6)),
    ax(1,'right',-0.2,0.2,resTickVals,15),
    ax(2,'left',0,700,insetYTicks,8, lab(insetYTicks, v=>String(v), 16, 5)),
    ax(2,'right',0,700,insetYTicks,8)
  ],
  series:[
    {type:'scatter', xAxisIndex:0, yAxisIndex:0, data:allMain, symbolSize:MS, itemStyle:{color:'#008000', opacity:0.5}, silent:true, z:2},
    {type:'scatter', xAxisIndex:0, yAxisIndex:0, data:brightMain, symbolSize:MS, itemStyle:{color:'#0000ff', opacity:0.5}, silent:true, z:3},
    {type:'line', xAxisIndex:0, yAxisIndex:0, data:lineRange.map(x=>[x,x]), showSymbol:false, lineStyle:{color:'#ff0000', width:1.3}, silent:true, z:4},
    {type:'line', xAxisIndex:0, yAxisIndex:0, data:lineRange.map(x=>[x,x+outlierLimit*(1+x)]), showSymbol:false, lineStyle:{color:'#ff0000', width:1.3, type:dashDot}, silent:true, z:4},
    {type:'line', xAxisIndex:0, yAxisIndex:0, data:lineRange.map(x=>[x,x-outlierLimit*(1+x)]), showSymbol:false, lineStyle:{color:'#ff0000', width:1.3, type:dashDot}, silent:true, z:4},
    {type:'scatter', xAxisIndex:2, yAxisIndex:2, data:allRes, symbolSize:MS, itemStyle:{color:'#008000', opacity:0.5}, silent:true, z:2},
    {type:'scatter', xAxisIndex:2, yAxisIndex:2, data:brightAll, symbolSize:MS, itemStyle:{color:'#0000ff', opacity:0.5}, silent:true, z:3},
    {type:'line', xAxisIndex:2, yAxisIndex:2, data:resLineRange.map(x=>[x,0]), showSymbol:false, lineStyle:{color:'#ff0000', width:1.8}, silent:true, z:4},
    {type:'line', xAxisIndex:2, yAxisIndex:2, data:resLineRange.map(x=>[x,outlierLimit]), showSymbol:false, lineStyle:{color:'#ff0000', width:1.3, type:dashDot}, silent:true, z:4},
    {type:'line', xAxisIndex:2, yAxisIndex:2, data:resLineRange.map(x=>[x,-outlierLimit]), showSymbol:false, lineStyle:{color:'#ff0000', width:1.3, type:dashDot}, silent:true, z:4},
    {type:'line', xAxisIndex:4, yAxisIndex:4, data:histData, step:'end', showSymbol:false, lineStyle:{color:'#000', width:2.6}, silent:true, z:4},
    {type:'line', xAxisIndex:4, yAxisIndex:4, data:[[histMean,0],[histMean,700]], showSymbol:false, lineStyle:{color:'#0000ff', width:1}, silent:true, z:5}
  ],
  graphic:[
    mathGroup([['ASTRODEEP GS43','29px '+SANS]], 645, 20, 'center'),
    mathGroup([['photo z','22px '+SANS]], 45, 340, 'center', Math.PI/2),
    mathGroup([['\u0394','30px '+SERIF],['z','italic 30px '+SERIF],['/(1+','30px '+SERIF],['z','italic 30px '+SERIF],[')','30px '+SERIF]], 25, 808, 'center', Math.PI/2),
    mathGroup([['z','italic 42px '+SERIF],['spec','italic 29px '+SERIF,9]], 655, 958, 'center'),
    mathGroup([['\u0394','22px '+SERIF],['z','italic 22px '+SERIF],['/(1+','22px '+SERIF],['z','italic 22px '+SERIF],[')','22px '+SERIF]], 1029, 578, 'center'),
    mathGroup([[(histMean).toFixed(4)+' ','21px '+SANS],['\u00b1','24px '+SERIF],[histStd.toFixed(4),'21px '+SANS]], 1013, 619, 'center'),
    mathGroup([['Outliers 3.01 %','21.5px '+SANS]], 134, 168, 'left'),
    mathGroup([['NMAD 0.015','21.5px '+SANS]], 134, 193, 'left'),
    mathGroup([['Outliers[','21.5px '+SANS],['m','italic 25px '+SERIF],['I','italic 16px '+SERIF,6],['<22.5] 0.22 %','21.5px '+SANS]], 134, 218, 'left'),
    mathGroup([['NMAD[','21.5px '+SANS],['m','italic 25px '+SERIF],['I','italic 16px '+SERIF,6],['<22.5] 0.011','21.5px '+SANS]], 134, 243, 'left'),
    {type:'rect', shape:{x:111.5, y:48.5, width:181, height:77}, style:{fill:'#fff', stroke:'#000', lineWidth:1.2}, z:10},
    {type:'circle', shape:{cx:127, cy:67, r:3}, style:{fill:'rgba(0,128,0,0.5)'}, z:11},
    {type:'circle', shape:{cx:160, cy:67, r:3}, style:{fill:'rgba(0,128,0,0.5)'}, z:11},
    {type:'circle', shape:{cx:127, cy:101, r:3}, style:{fill:'rgba(0,0,255,0.5)'}, z:11},
    {type:'circle', shape:{cx:160, cy:101, r:3}, style:{fill:'rgba(0,0,255,0.5)'}, z:11},
    mathGroup([['All','24px '+SANS]], 185, 67, 'left', 0, 12),
    mathGroup([['m','italic 28px '+SERIF],['I','italic 18px '+SERIF,7],['<22.5','24px '+SANS]], 186, 100, 'left', 0, 12)
  ]
});
</script></body></html>
